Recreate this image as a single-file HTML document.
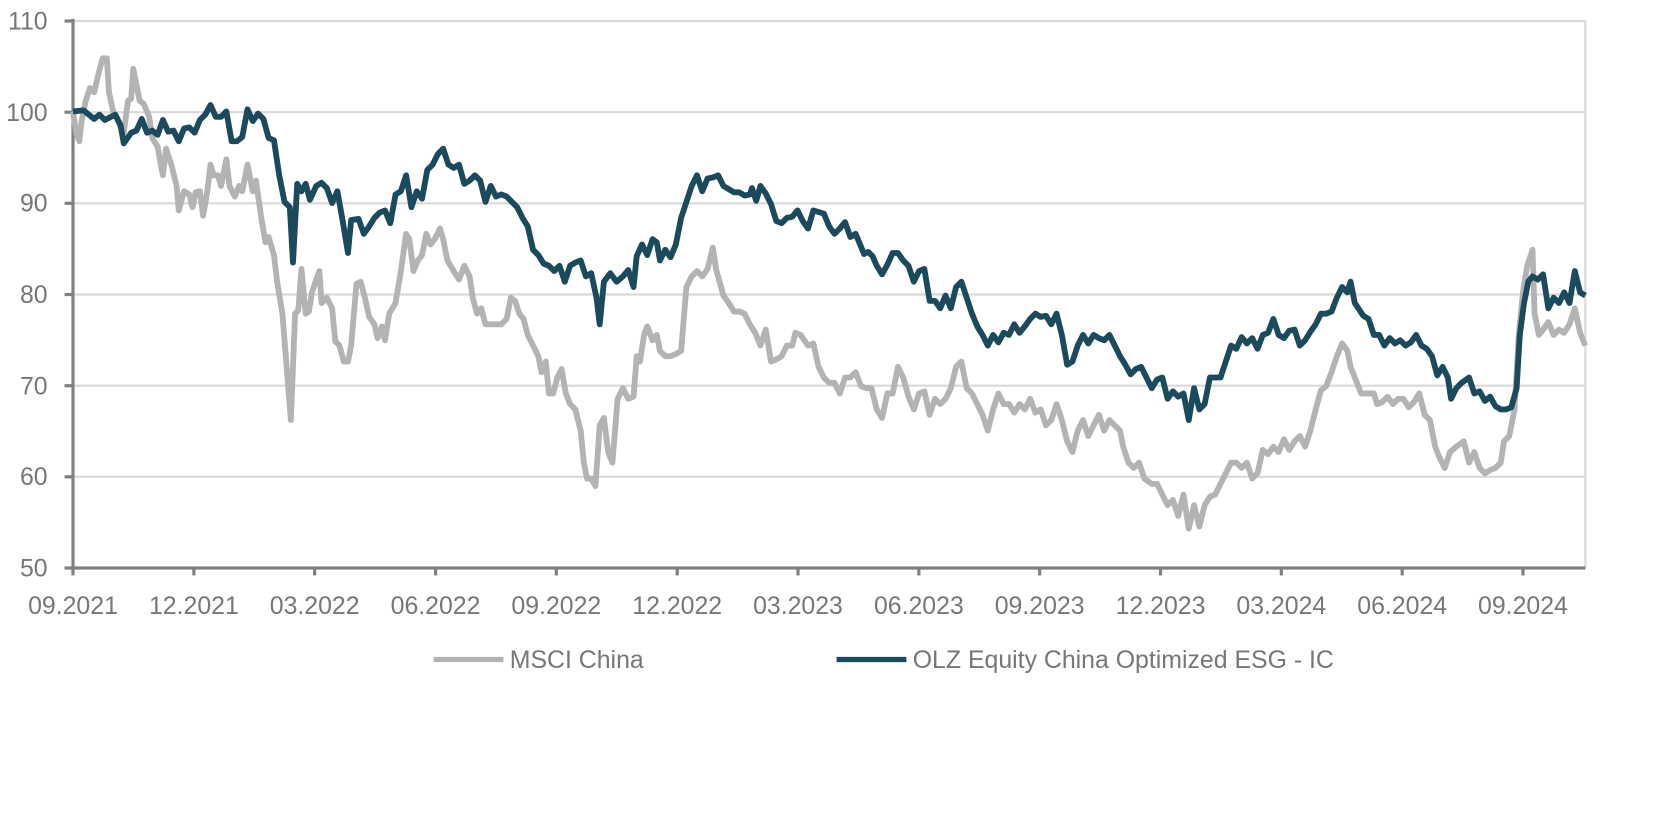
<!DOCTYPE html>
<html><head><meta charset="utf-8"><style>
html,body{margin:0;padding:0;background:#fff;}
svg{display:block;}
text{font-family:"Liberation Sans",sans-serif;fill:#777;font-size:23.5px;}
</style></head><body>
<svg width="1656" height="833" viewBox="0 0 1656 833">
<g transform="translate(73,21) scale(1.0576,1.0642) translate(-70,-25)">
<g stroke="#d9d9d9" stroke-width="2">
<line x1="70" y1="25" x2="1500" y2="25"/><line x1="70" y1="110.7" x2="1500" y2="110.7"/>
<line x1="70" y1="196.3" x2="1500" y2="196.3"/><line x1="70" y1="282" x2="1500" y2="282"/>
<line x1="70" y1="367.7" x2="1500" y2="367.7"/><line x1="70" y1="453.3" x2="1500" y2="453.3"/>
<line x1="1500" y1="25" x2="1500" y2="539"/>
</g>
<g stroke="#808080" stroke-width="3">
<line x1="70" y1="23" x2="70" y2="541"/><line x1="68" y1="539" x2="1500" y2="539"/>
<line x1="62" y1="25" x2="70" y2="25"/><line x1="62" y1="110.7" x2="70" y2="110.7"/><line x1="62" y1="196.3" x2="70" y2="196.3"/><line x1="62" y1="282" x2="70" y2="282"/><line x1="62" y1="367.7" x2="70" y2="367.7"/><line x1="62" y1="453.3" x2="70" y2="453.3"/><line x1="62" y1="539" x2="70" y2="539"/>
<line x1="70" y1="539" x2="70" y2="546"/><line x1="184.3" y1="539" x2="184.3" y2="546"/><line x1="298.5" y1="539" x2="298.5" y2="546"/><line x1="412.8" y1="539" x2="412.8" y2="546"/><line x1="527" y1="539" x2="527" y2="546"/><line x1="641.3" y1="539" x2="641.3" y2="546"/><line x1="755.5" y1="539" x2="755.5" y2="546"/><line x1="869.8" y1="539" x2="869.8" y2="546"/><line x1="984" y1="539" x2="984" y2="546"/><line x1="1098.3" y1="539" x2="1098.3" y2="546"/><line x1="1212.5" y1="539" x2="1212.5" y2="546"/><line x1="1326.8" y1="539" x2="1326.8" y2="546"/><line x1="1441" y1="539" x2="1441" y2="546"/>
</g>
<g text-anchor="end">
<text x="46" y="33">110</text><text x="46" y="119">100</text><text x="46" y="204">90</text><text x="46" y="290">80</text><text x="46" y="376">70</text><text x="46" y="461">60</text><text x="46" y="547">50</text>
</g>
<g text-anchor="middle">
<text x="70" y="582">09.2021</text><text x="184.3" y="582">12.2021</text><text x="298.5" y="582">03.2022</text><text x="412.8" y="582">06.2022</text><text x="527" y="582">09.2022</text><text x="641.3" y="582">12.2022</text><text x="755.5" y="582">03.2023</text><text x="869.8" y="582">06.2023</text><text x="984" y="582">09.2023</text><text x="1098.3" y="582">12.2023</text><text x="1212.5" y="582">03.2024</text><text x="1326.8" y="582">06.2024</text><text x="1441" y="582">09.2024</text>
</g>
<polyline fill="none" stroke="#b3b3b3" stroke-width="5.5" stroke-linejoin="round" points="70,110 73,130 76,138 78,120 82,100 86,88 90,92 94,75 98,60 102,60 104,92 108,110 112,118 115,125 118,130 122,100 125,98 127,70 130,85 133,100 137,103 142,115 145,135 150,143 153,160 155,170 158,145 163,160 168,180 170,203 175,185 180,188 183,200 186,186 190,185 193,208 197,185 200,160 203,170 207,170 210,180 215,155 218,180 223,190 227,180 230,185 235,160 240,185 243,175 248,210 252,233 255,228 260,245 263,270 268,300 272,350 276,400 280,300 283,297 286,258 290,300 293,298 296,280 300,268 303,260 305,290 310,285 315,295 318,326 322,330 326,345 330,345 333,330 338,272 342,270 346,285 350,303 355,310 358,323 362,312 365,325 369,300 375,290 380,260 385,225 388,230 392,260 396,250 400,245 404,225 408,235 412,230 417,220 420,230 424,250 430,260 435,268 440,255 445,265 448,285 452,300 456,295 460,310 465,310 470,310 475,310 480,305 484,285 488,288 492,300 496,305 500,320 505,330 510,340 513,355 517,345 520,375 524,375 528,360 532,352 536,375 540,385 545,390 550,410 553,440 556,455 560,455 564,462 568,405 572,398 576,430 580,440 585,380 590,370 595,380 600,378 603,340 606,345 610,320 613,312 618,325 622,320 625,335 630,340 635,340 640,338 645,335 650,275 655,265 660,260 665,265 670,258 675,238 678,258 685,283 690,290 695,298 700,298 705,300 710,310 715,318 720,330 725,315 730,345 735,343 740,340 745,330 750,330 753,318 758,320 765,330 770,328 775,350 780,360 785,365 790,365 795,375 800,360 805,360 810,355 815,368 820,370 825,370 830,390 835,398 840,375 845,375 850,350 855,360 860,378 865,390 870,375 875,373 880,395 885,380 890,385 895,380 900,370 905,350 910,345 915,370 920,375 925,385 930,395 935,410 940,390 945,375 950,385 955,385 960,393 965,385 970,390 975,380 980,393 985,390 990,405 995,400 1000,385 1005,400 1010,420 1015,430 1020,410 1025,400 1030,415 1035,405 1040,395 1045,410 1050,400 1055,405 1060,410 1063,425 1068,440 1073,445 1078,440 1083,455 1090,460 1095,460 1100,470 1105,480 1110,475 1115,490 1120,470 1125,502 1130,480 1135,500 1140,480 1145,472 1150,470 1155,460 1160,450 1165,440 1170,440 1175,445 1180,440 1185,455 1190,450 1195,428 1200,432 1205,425 1210,430 1215,418 1220,428 1225,420 1230,415 1235,425 1240,410 1245,390 1250,372 1255,368 1260,355 1265,340 1270,328 1275,335 1278,350 1282,360 1288,375 1292,375 1300,375 1303,385 1308,383 1313,378 1318,385 1323,380 1328,380 1333,388 1338,383 1343,375 1348,395 1353,400 1358,425 1362,435 1367,445 1372,430 1378,425 1385,420 1390,440 1395,430 1400,445 1405,450 1410,447 1415,445 1420,440 1423,420 1428,415 1433,390 1437,320 1441,280 1445,255 1450,240 1452,300 1456,320 1460,315 1465,308 1470,320 1475,315 1480,318 1485,310 1490,295 1495,318 1500,330"/>
<polyline fill="none" stroke="#1b4a5c" stroke-width="5.5" stroke-linejoin="round" points="70,110 80,109 90,117 95,113 100,118 110,113 115,123 118,140 125,130 130,128 135,117 140,130 145,128 150,132 155,118 160,129 165,128 170,138 175,126 180,125 185,130 190,118 195,113 200,104 205,115 210,115 215,110 220,138 225,138 230,134 235,108 240,119 245,112 250,117 255,135 260,137 265,170 270,195 275,200 278,252 282,178 286,185 290,178 294,193 300,180 305,177 310,182 315,196 320,185 325,213 330,243 333,212 340,211 345,225 350,218 355,210 360,205 365,203 370,215 375,188 380,185 385,170 390,200 395,185 400,192 405,165 410,160 415,150 420,145 425,160 430,163 435,160 440,178 445,175 450,170 455,175 460,195 465,180 470,190 475,188 480,190 485,195 490,200 495,210 500,218 505,240 510,245 515,253 520,255 525,260 530,255 535,270 540,255 545,252 550,250 555,265 560,262 565,285 568,310 572,270 578,262 584,270 590,265 595,259 600,275 603,246 608,235 613,245 618,230 622,233 625,250 630,240 635,247 640,235 645,210 650,195 655,180 660,170 665,185 670,173 675,172 680,170 685,180 690,183 695,186 700,186 705,189 710,188 712,182 716,194 720,180 725,187 730,197 735,213 740,215 745,210 750,209 755,203 760,213 765,220 770,203 780,206 785,218 790,225 795,220 800,214 805,228 810,225 818,244 822,242 826,246 830,255 835,263 840,254 845,243 850,243 855,250 860,255 865,270 870,260 875,258 880,288 885,288 890,295 895,283 900,295 905,275 910,270 915,285 920,300 925,312 930,320 935,330 940,320 945,327 950,318 955,320 960,310 965,318 970,312 975,305 980,300 985,303 990,302 995,310 1000,300 1005,320 1010,348 1015,345 1020,330 1025,320 1030,328 1035,320 1040,323 1045,325 1050,320 1055,330 1060,340 1065,348 1070,357 1075,352 1080,350 1085,360 1090,370 1095,362 1100,360 1105,380 1110,373 1115,378 1120,375 1125,400 1130,370 1135,390 1140,385 1145,360 1150,360 1155,360 1160,345 1165,330 1170,333 1175,322 1180,328 1185,323 1190,333 1195,320 1200,318 1205,305 1210,320 1215,323 1220,316 1225,315 1230,330 1235,325 1240,317 1245,310 1250,300 1255,300 1260,298 1265,285 1270,275 1275,280 1278,270 1282,290 1290,302 1295,305 1300,320 1305,320 1310,330 1315,323 1320,328 1325,325 1330,330 1335,327 1340,320 1345,330 1350,333 1355,340 1360,358 1365,350 1370,360 1373,380 1378,370 1383,365 1390,360 1395,375 1400,373 1405,382 1410,378 1415,387 1420,390 1425,390 1430,388 1435,370 1438,320 1442,290 1446,270 1450,265 1455,268 1460,263 1465,295 1470,285 1475,290 1480,280 1485,290 1490,260 1495,280 1500,283"/>
<line x1="411" y1="625" x2="477" y2="625" stroke="#b3b3b3" stroke-width="5"/>
<text x="483" y="633">MSCI China</text>
<line x1="792" y1="625" x2="858" y2="625" stroke="#1b4a5c" stroke-width="5"/>
<text x="864" y="633">OLZ Equity China Optimized ESG - IC</text>
</g>
</svg>
</body></html>
